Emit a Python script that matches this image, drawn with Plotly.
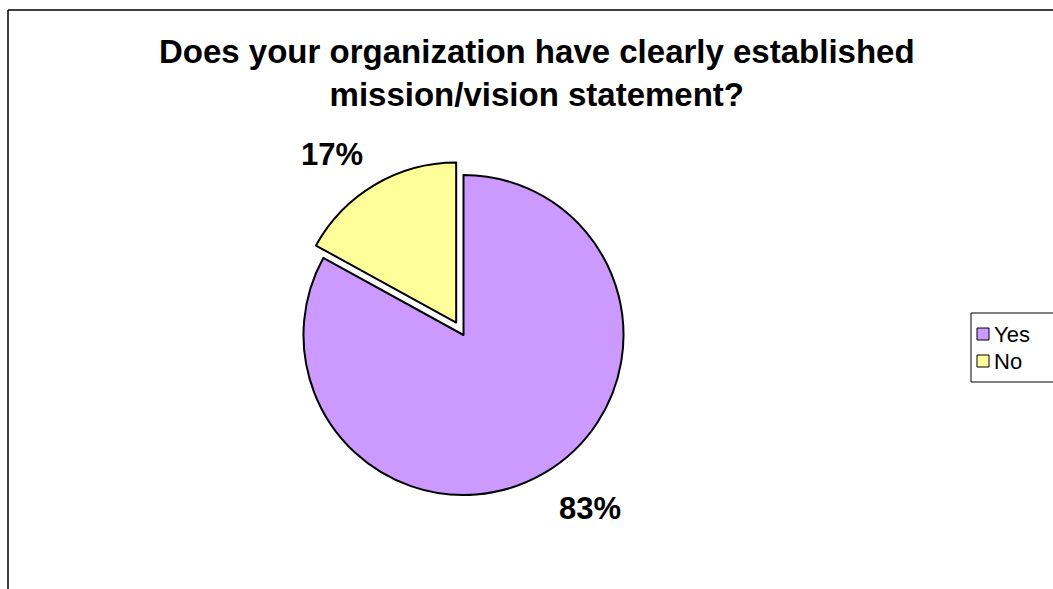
import plotly.graph_objects as go

# Survey answers
categories = ["Yes", "No"]
values = [83, 17]
colors = ["#CC99FF", "#FFFF99"]
pulls = [0, 0.09]

W, H = 1053, 589
FONT = "Liberation Sans, Arial, sans-serif"

total = sum(values)
pct_text = [f"{v / total:.0%}" for v in values]

def px(x):
    return x / W

def py(y):
    return 1 - y / H

# pie box: centre and unpulled radius in pixels
cx, cy, r = 463.5, 335, 160
half = r * (1 + max(pulls))

fig = go.Figure(
    go.Pie(
        labels=categories,
        values=values,
        marker=dict(colors=colors, line=dict(color="#000000", width=2)),
        pull=pulls,
        sort=False,
        direction="clockwise",
        rotation=0,
        textinfo="none",
        hoverinfo="label+percent",
        showlegend=False,
        domain=dict(x=[px(cx - half), px(cx + half)], y=[py(cy + half), py(cy - half)]),
    )
)

annotations = [
    dict(
        text="Does your organization have clearly established<br>mission/vision statement?",
        x=px(537), y=py(31), xref="paper", yref="paper",
        xanchor="center", yanchor="top", showarrow=False,
        font=dict(family=FONT, size=33, color="#000000", weight="bold"),
    ),
]

# percentage labels outside the slices
label_pos = {"Yes": (590, 508), "No": (332, 155)}
for cat, txt in zip(categories, pct_text):
    lx, ly = label_pos[cat]
    annotations.append(dict(
        text=txt, x=px(lx), y=py(ly), xref="paper", yref="paper",
        xanchor="center", yanchor="middle", showarrow=False,
        font=dict(family=FONT, size=31, color="#000000", weight="bold"),
    ))

shapes = [
    # chart frame (left and top edges)
    dict(type="line", xref="paper", yref="paper", x0=px(8), y0=py(10), x1=px(8), y1=-0.05,
         line=dict(color="#000000", width=1.5)),
    dict(type="line", xref="paper", yref="paper", x0=px(8), y0=py(10), x1=1.05, y1=py(10),
         line=dict(color="#000000", width=1.5)),
    # legend box
    dict(type="rect", xref="paper", yref="paper", x0=px(971), y0=py(313), x1=1.05, y1=py(382),
         line=dict(color="#000000", width=1), fillcolor="#FFFFFF"),
]

# legend entries
row_y = [334, 361]
for cat, col, ry in zip(categories, colors, row_y):
    shapes.append(dict(type="rect", xref="paper", yref="paper",
                       x0=px(977), x1=px(989), y0=py(ry + 6), y1=py(ry - 6),
                       line=dict(color="#000000", width=1), fillcolor=col))
    annotations.append(dict(
        text=cat, x=px(992), y=py(ry), xref="paper", yref="paper",
        xanchor="left", yanchor="middle", showarrow=False,
        font=dict(family=FONT, size=22, color="#000000"),
    ))

fig.update_layout(
    width=W, height=H,
    margin=dict(l=0, r=0, t=0, b=0),
    paper_bgcolor="#FFFFFF",
    plot_bgcolor="#FFFFFF",
    annotations=annotations,
    shapes=shapes,
)

fig.write_html("out.html")
